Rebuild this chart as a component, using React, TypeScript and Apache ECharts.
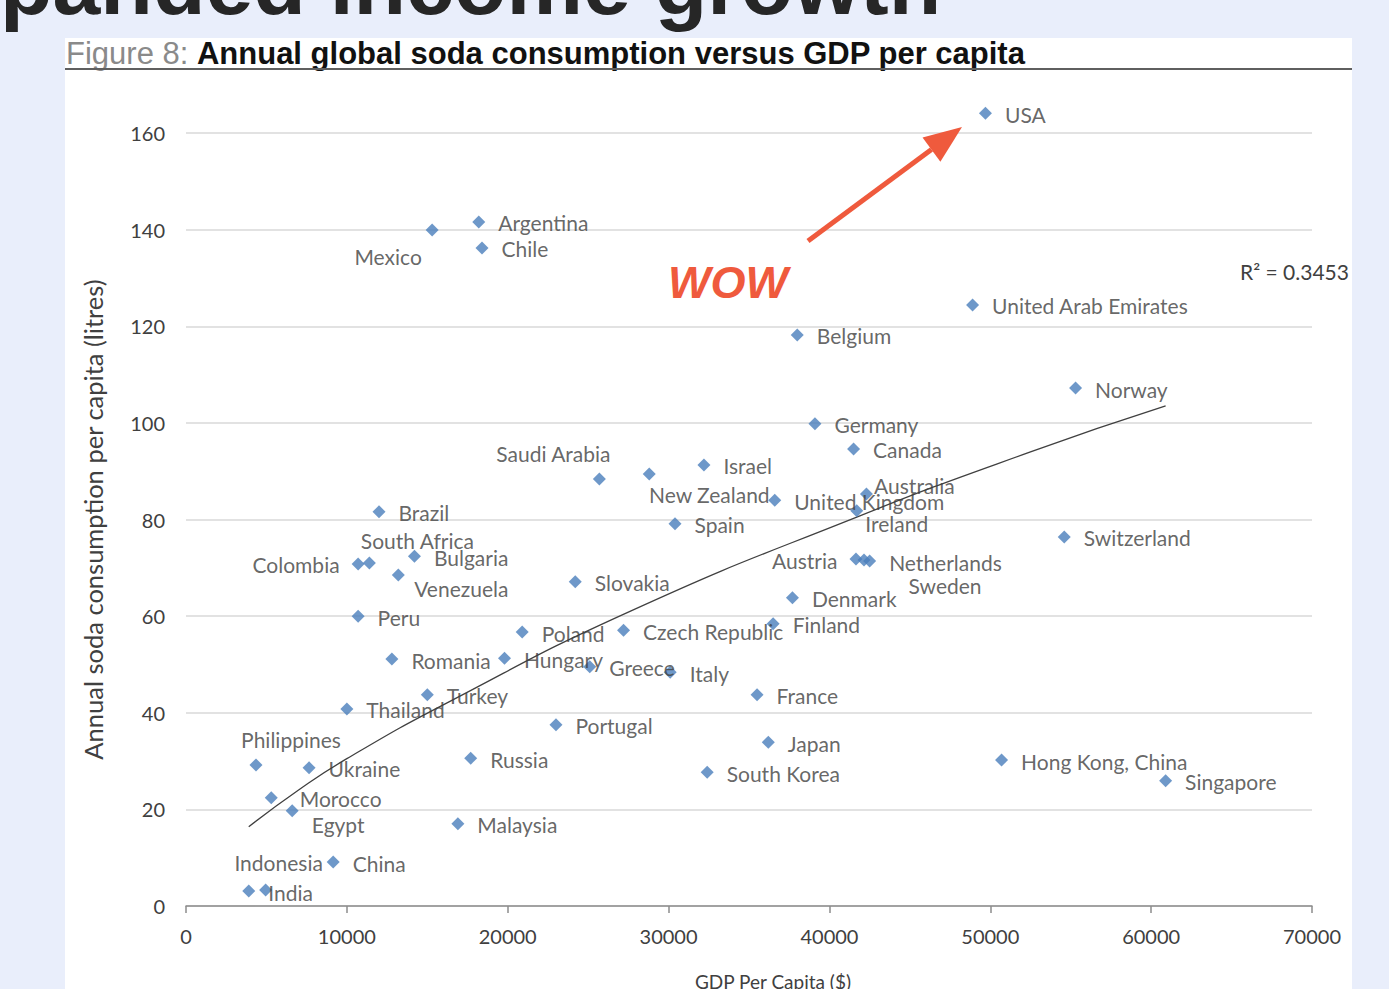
import React, { useEffect, useRef } from "react";
import * as echarts from "echarts";

// ---- data ----
const countries = [
  "USA", "Argentina", "Chile", "Mexico", "United Arab Emirates", "Belgium", "Norway",
  "Germany", "Canada", "Saudi Arabia", "New Zealand", "Israel", "United Kingdom",
  "Australia", "Ireland", "Spain", "Brazil", "Colombia", "South Africa", "Bulgaria",
  "Venezuela", "Slovakia", "Peru", "Poland", "Czech Republic", "Finland", "Denmark",
  "Austria", "Sweden", "Netherlands", "Romania", "Hungary", "Greece", "Italy", "Turkey",
  "Thailand", "France", "Portugal", "Japan", "South Korea", "Russia", "Hong Kong, China",
  "Singapore", "Switzerland", "Philippines", "Ukraine", "Morocco", "Egypt", "Malaysia",
  "China", "India", "Indonesia",
];
const gdpPerCapita = [
  49700, 18200, 18400, 15300, 48900, 38000, 55300,
  39100, 41500, 25700, 28800, 32200, 36600,
  42300, 41700, 30400, 12000, 10700, 11400, 14200,
  13200, 24200, 10700, 20900, 27200, 36500, 37700,
  41650, 42150, 42500, 12800, 19800, 25100, 30100, 15000,
  10000, 35500, 23000, 36200, 32400, 17700, 50700,
  60900, 54600, 4350, 7650, 5300, 6600, 16900,
  9150, 3900, 4950,
];
const sodaLitres = [
  164.1, 141.6, 136.2, 139.9, 124.4, 118.2, 107.2,
  99.8, 94.6, 88.4, 89.4, 91.3, 84.0,
  85.3, 81.8, 79.1, 81.6, 70.8, 71.0, 72.4,
  68.5, 67.1, 60.0, 56.7, 57.1, 58.4, 63.8,
  71.8, 71.6, 71.4, 51.1, 51.3, 49.5, 48.4, 43.7,
  40.8, 43.7, 37.5, 33.9, 27.7, 30.6, 30.2,
  25.9, 76.4, 29.2, 28.6, 22.4, 19.7, 17.0,
  9.1, 3.1, 3.3,
];
// trendline (power fit drawn in the original)
const trendX = [3900, 7000, 10000, 16200, 27600, 41700, 52500, 60900];
const trendY = [16.4, 24.0, 30.5, 42.0, 61.0, 80.5, 94.0, 103.5];
const xTicks = { min: 0, max: 70000, interval: 10000 };
const yTicks = { min: 0, max: 160, interval: 20 };
const rSquaredText = "R² = 0.3453";

// ---- label placement (layout only) ----
const centeredLabels: Record<string, [number, number]> = {
  Mexico: [-44, 26],
  "Saudi Arabia": [-46, -25],
  "New Zealand": [60, 20],
  Australia: [48, -8],
  Ireland: [40, 13],
  "South Africa": [48, -22],
  Venezuela: [63, 13],
  Sweden: [81, 25],
  Philippines: [35, -25],
  Egypt: [46, 14],
  Indonesia: [13, -28],
};
const leftLabels = ["Colombia", "Austria"];
const rightNudge: Record<string, number> = { Morocco: 9 };

const W = 1389;
const H = 989;
const BG = "#e9eefb";
const LABEL_COLOR = "#404040";
const FONT = "Lato";
const MARKER = "#4a7ebb";
const RED = "#ef5a3d";

function buildPoints() {
  return countries.map((name, i) => {
    let label: any;
    if (centeredLabels[name]) {
      label = { position: "inside", offset: centeredLabels[name] };
    } else if (leftLabels.includes(name)) {
      label = { position: "left", distance: 12, offset: [0, 1] };
    } else {
      label = { position: "right", distance: 13, offset: [rightNudge[name] || 0, 1] };
    }
    return { name, value: [gdpPerCapita[i], sodaLitres[i]], label };
  });
}

export default function App() {
  const ref = useRef<HTMLDivElement>(null);
  useEffect(() => {
    const chart = echarts.init(ref.current!, null, { renderer: "svg", width: W, height: H });
    const tail = [808, 241];
    const tip = [962, 127];
    const dx = tip[0] - tail[0];
    const dy = tip[1] - tail[1];
    const len = Math.sqrt(dx * dx + dy * dy);
    const ux = dx / len, uy = dy / len;
    const headLen = 38, headHalf = 15;
    const bx = tip[0] - ux * headLen, by = tip[1] - uy * headLen;
    const option: any = {
      animation: false,
      backgroundColor: "#ffffff",
      textStyle: { fontFamily: FONT },
      grid: { left: 186, right: 77, top: 133, bottom: 83, containLabel: false, outerBoundsMode: "none" },
      xAxis: {
        type: "value",
        min: xTicks.min,
        max: xTicks.max,
        interval: xTicks.interval,
        name: "GDP Per Capita ($)",
        nameLocation: "middle",
        nameGap: 66,
        nameTextStyle: { fontFamily: FONT, fontSize: 19, color: LABEL_COLOR, padding: [0, 0, 0, 48] },
        axisLine: { show: true, lineStyle: { color: "#8c8c8c", width: 1.5 } },
        axisTick: { show: true, length: 7, lineStyle: { color: "#8c8c8c", width: 1.5 } },
        axisLabel: { fontFamily: FONT, fontSize: 20, color: LABEL_COLOR, margin: 20, formatter: (v: number) => String(v) },
        splitLine: { show: false },
      },
      yAxis: {
        type: "value",
        min: yTicks.min,
        max: yTicks.max,
        interval: yTicks.interval,
        name: "Annual soda consumption per capita (litres)",
        nameLocation: "middle",
        nameGap: 66,
        nameTextStyle: { fontFamily: FONT, fontSize: 25.5, color: LABEL_COLOR, padding: [0, 0, 14, 0] },
        axisLine: { show: false },
        axisTick: { show: false },
        axisLabel: { fontFamily: FONT, fontSize: 20, color: LABEL_COLOR, margin: 21, formatter: (v: number) => String(v) },
        splitLine: { show: true, lineStyle: { color: "#d9d9d9", width: 1.5 } },
      },
      series: [
        {
          type: "line",
          data: trendX.map((x, i) => [x, trendY[i]]),
          smooth: true,
          showSymbol: false,
          symbol: "none",
          lineStyle: { color: "#404040", width: 1.3 },
          z: 3,
          silent: true,
        },
        {
          type: "scatter",
          data: buildPoints(),
          symbol: "diamond",
          symbolSize: 13,
          clip: false,
          itemStyle: { color: MARKER },
          label: {
            show: true,
            formatter: (p: any) => p.name,
            fontFamily: FONT,
            fontSize: 21,
            color: LABEL_COLOR,
          },
          z: 4,
        },
      ],
      graphic: [
        { type: "rect", z: 10, silent: true, shape: { x: 0, y: 0, width: W, height: 38 }, style: { fill: BG } },
        { type: "rect", z: 10, silent: true, shape: { x: 0, y: 0, width: 65, height: H }, style: { fill: BG } },
        { type: "rect", z: 10, silent: true, shape: { x: 1352, y: 0, width: W - 1352, height: H }, style: { fill: BG } },
        {
          type: "text", z: 11, silent: true, x: 0, y: -16,
          style: {
            text: "panded income growth",
            font: 'bold 86px "Liberation Sans"',
            fill: "#262626",
            verticalAlign: "middle",
          },
        },
        {
          type: "text", z: 11, silent: true, x: 66, y: 53,
          style: {
            text: "{g|Figure 8: }{b|Annual global soda consumption versus GDP per capita}",
            verticalAlign: "middle",
            rich: {
              g: { font: '31px "Liberation Sans"', fill: "#8a8a8a" },
              b: { font: 'bold 31px "Liberation Sans"', fill: "#111111" },
            },
          },
        },
        { type: "line", z: 11, silent: true, shape: { x1: 65, y1: 69, x2: 1352, y2: 69 }, style: { stroke: "#5f5f5f", lineWidth: 2 } },
        { type: "line", z: 11, silent: true, shape: { x1: tail[0], y1: tail[1], x2: bx, y2: by }, style: { stroke: RED, lineWidth: 5 } },
        {
          type: "polygon", z: 11, silent: true,
          shape: { points: [tip, [bx - uy * headHalf, by + ux * headHalf], [bx + uy * headHalf, by - ux * headHalf]] },
          style: { fill: RED },
        },
        {
          type: "text", z: 11, silent: true, x: 668, y: 282,
          style: { text: "WOW", font: 'italic bold 45px "Liberation Sans"', fill: RED, verticalAlign: "middle" },
        },
        {
          type: "text", z: 11, silent: true, x: 1240, y: 271,
          style: { text: rSquaredText, font: '21px "Lato"', fill: LABEL_COLOR, verticalAlign: "middle" },
        },
      ],
    };
    chart.setOption(option);
    return () => chart.dispose();
  }, []);
  return (
    <div
      ref={ref}
      style={{ position: "fixed", left: 0, top: 0, width: W, height: H }}
    />
  );
}
